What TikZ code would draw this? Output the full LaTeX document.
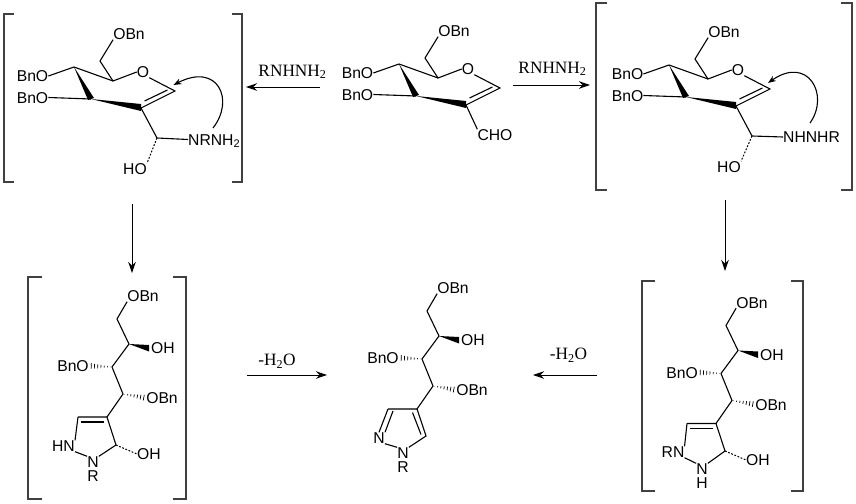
\documentclass[tikz,border=0pt]{standalone}
\usepackage{fontspec}
\setmainfont{Liberation Sans}
\newfontfamily\reagentfont{Liberation Serif}
\usetikzlibrary{calc,arrows.meta}
\tikzset{
  atom/.style={inner sep=0pt,text height=11pt,text depth=0pt,font=\fontsize{15.7}{15.7}\selectfont},
  reagent/.style={inner sep=0pt,font=\reagentfont\fontsize{17.3}{17.3}\selectfont},
  bond/.style={line width=1.1pt,line join=miter},
  hashbond/.style={line width=1pt,dash pattern=on 1.8pt off 1.6pt},
  brak/.style={line width=1.2pt,color=black!75},
  rxn/.style={line width=1pt,-{Stealth[length=11pt,width=7.5pt]}},
  % sugar ring shared by the three top structures
  glycal/.pic={
    \coordinate (C1) at (175,91);
    \coordinate (C2) at (141,108);
    \coordinate (C3) at (91,99);
    \coordinate (C4) at (74,67);
    \coordinate (C5) at (113,81);
    \coordinate (C6) at (100,61);
    \node[atom] (O) at (143,72) {O};
    \node[atom] (OBn) at (129,34) {OBn};
    \node[atom] (BnOa) at (32.5,76) {BnO};
    \node[atom] (BnOb) at (32.5,97.5) {BnO};
    \draw[bond] (OBn.south west) -- (C6) -- (C5) -- (O.west);
    \draw[bond] (O.south east) -- (C1) -- (C2);
    \draw[bond] ($(C1)+(-7.5,-1)$) -- ($(C2)+(3.5,-7)$);
    \draw[bond] (BnOa.east) -- (C4) -- (C5);
    \draw[bond] (BnOb.east) -- (C3);
    \fill (C4) -- ($(C3)+(-3,1)$) -- ($(C3)+(3,-1)$) -- cycle;
    \fill (C3) -- ($(C2)+(0,-4)$) -- ($(C2)+(0,3)$) -- cycle;
  },
  % open chain shared by the three bottom structures
  chain/.pic={
    \coordinate (C5) at (427,311);
    \coordinate (C4) at (439,336);
    \coordinate (C3) at (422,359);
    \coordinate (C2) at (433,386);
    \coordinate (Ca) at (417,409);
    \coordinate (Cb) at (388,409);
    \node[atom] (OBn) at (453,288) {OBn};
    \node[atom] (OH) at (473,340) {OH};
    \node[atom] (BnO) at (383,358) {BnO};
    \node[atom] (OBnb) at (472,390) {OBn};
    \draw[bond] (OBn.south west) -- (C5) -- (C4) -- (C3) -- (C2) -- (Ca);
    \fill (C4) -- ($(OH.west)+(-2,-3)$) -- ($(OH.west)+(-2,3.5)$) -- cycle;
    \foreach \t in {0.06,0.2,...,0.95} {
      \draw[line width=.7pt] ($(C3)!\t!(BnO.east)!{\t*3.2pt}!90:(BnO.east)$) -- ($(C3)!\t!(BnO.east)!{\t*3.2pt}!-90:(BnO.east)$);
      \draw[line width=.7pt] ($(C2)!\t!(OBnb.west)!{\t*3.2pt}!90:(OBnb.west)$) -- ($(C2)!\t!(OBnb.west)!{\t*3.2pt}!-90:(OBnb.west)$);
    }
  }
}
\begin{document}
\begin{tikzpicture}[x=1pt,y=-1pt]
  \useasboundingbox (0,0) rectangle (856,503);

  % top row
  \pic (lf) at (0,0) {glycal};
  \pic (md) at (325,-3) {glycal};
  \pic (rt) at (595,-2) {glycal};

  % left intermediate
  \coordinate (lfCH) at (157,138);
  \node[atom,anchor=west] (lfN) at (188,139.5) {NRNH\textsubscript{2}};
  \node[atom] (lfHO) at (135,169) {HO};
  \draw[bond] (lfC2) -- (lfCH) -- (lfN.west);
  \draw[hashbond] (lfCH) -- (lfHO.north east);
  \coordinate (lfArcA) at (213,128); \coordinate (lfArcB) at (173.5,85);
  \draw[bond,-{Stealth[length=8pt,width=6pt]}] (lfArcA) .. controls (235,100) and (218,62) .. (lfArcB);
  \draw[brak] (14,14) -- (4,14) -- (4,182) -- (14,182);
  \draw[brak] (232,14) -- (242,14) -- (242,182) -- (232,182);

  % starting material
  \node[atom] (mdCHO) at (495,135) {CHO};
  \draw[bond] (mdC2) -- (mdCHO.north west);

  % right intermediate
  \coordinate (rtCH) at (752,136);
  \node[atom,anchor=west] (rtN) at (783,137) {NHNHR};
  \node[atom] (rtHO) at (729,167) {HO};
  \draw[bond] (rtC2) -- (rtCH) -- (rtN.west);
  \draw[hashbond] (rtCH) -- (rtHO.north east);
  \coordinate (rtArcA) at (810,123); \coordinate (rtArcB) at (768,83);
  \draw[bond,-{Stealth[length=8pt,width=6pt]}] (rtArcA) .. controls (830,95) and (808,55) .. (rtArcB);
  \draw[brak] (607,3) -- (596,3) -- (596,190) -- (607,190);
  \draw[brak] (841,3) -- (852,3) -- (852,190) -- (841,190);

  % bottom left
  \pic[shift={(-310,8)}] (bl) {chain};
  \node[atom] (blHN) at (63.5,446) {HN};
  \node[atom] (blN) at (93,462) {N};
  \node[atom] (blR) at (93,476) {R};
  \node[atom] (blOH) at (149,454) {OH};
  \coordinate (blC) at (116,445);
  \draw[bond] (blCb) -- (blCa) -- (blC) -- (blN.north east);
  \draw[bond] ($(blCb)+(3,5)$) -- ($(blCa)+(-3,5)$);
  \draw[bond] (blCb) -- (blHN.north east);
  \draw[bond] (blHN.south east) -- (blN.north west);
  \draw[hashbond] (blC) -- (blOH.west);
  \draw[brak] (42,277) -- (28,277) -- (28,499) -- (42,499);
  \draw[brak] (173,277) -- (186,277) -- (186,499) -- (173,499);

  % product
  \pic (pr) {chain};
  \node[atom] (prNb) at (379,438) {N};
  \node[atom] (prNa) at (403,453) {N};
  \node[atom] (prR) at (403,467) {R};
  \coordinate (prC) at (426,436);
  \draw[bond] (prCb) -- (prCa) -- (prC) -- (prNa.north east);
  \draw[bond] ($(prCa)+(-4.5,3.5)$) -- ($(prC)+(-5,-1.5)$);
  \draw[bond] (prCb) -- (prNb.north);
  \draw[bond] ($(prCb)+(5,2)$) -- ($(prNb.north)+(6,0)$);
  \draw[bond] (prNb.south east) -- (prNa.north west);

  % bottom right
  \pic[shift={(299,14.5)}] (br) {chain};
  \node[atom] (brRN) at (673,452) {RN};
  \node[atom] (brN) at (702,469) {N};
  \node[atom] (brH) at (702,483) {H};
  \node[atom] (brOH) at (758,460) {OH};
  \coordinate (brC) at (725,451);
  \draw[bond] (brCb) -- (brCa) -- (brC) -- (brN.north east);
  \draw[bond] ($(brCb)+(3,5)$) -- ($(brCa)+(-3,5)$);
  \draw[bond] (brCb) -- (brRN.north east);
  \draw[bond] (brRN.south east) -- (brN.north west);
  \draw[hashbond] (brC) -- (brOH.west);
  \draw[brak] (655,281) -- (642,281) -- (642,491) -- (655,491);
  \draw[brak] (791,281) -- (803,281) -- (803,491) -- (791,491);

  % reaction arrows
  \coordinate (ra) at (320,87); \coordinate (rb) at (246,87);
  \coordinate (rc) at (513,85); \coordinate (rd) at (590,85);
  \coordinate (re) at (132,204); \coordinate (rf) at (132,273);
  \coordinate (rg) at (725,200); \coordinate (rh) at (725,271);
  \coordinate (ri) at (247,375); \coordinate (rj) at (327,375);
  \coordinate (rk) at (597,375); \coordinate (rl) at (533,375);
  \draw[rxn] (ra) -- (rb);
  \draw[rxn] (rc) -- (rd);
  \draw[rxn] (re) -- (rf);
  \draw[rxn] (rg) -- (rh);
  \draw[rxn] (ri) -- (rj);
  \draw[rxn] (rk) -- (rl);
  \node[reagent] (lbA) at (292.5,72) {RNHNH\textsubscript{2}};
  \node[reagent] (lbB) at (552.5,69) {RNHNH\textsubscript{2}};
  \node[reagent] (lbC) at (277,361) {-H\textsubscript{2}O};
  \node[reagent] (lbD) at (568.5,355) {-H\textsubscript{2}O};
\end{tikzpicture}
\end{document}
